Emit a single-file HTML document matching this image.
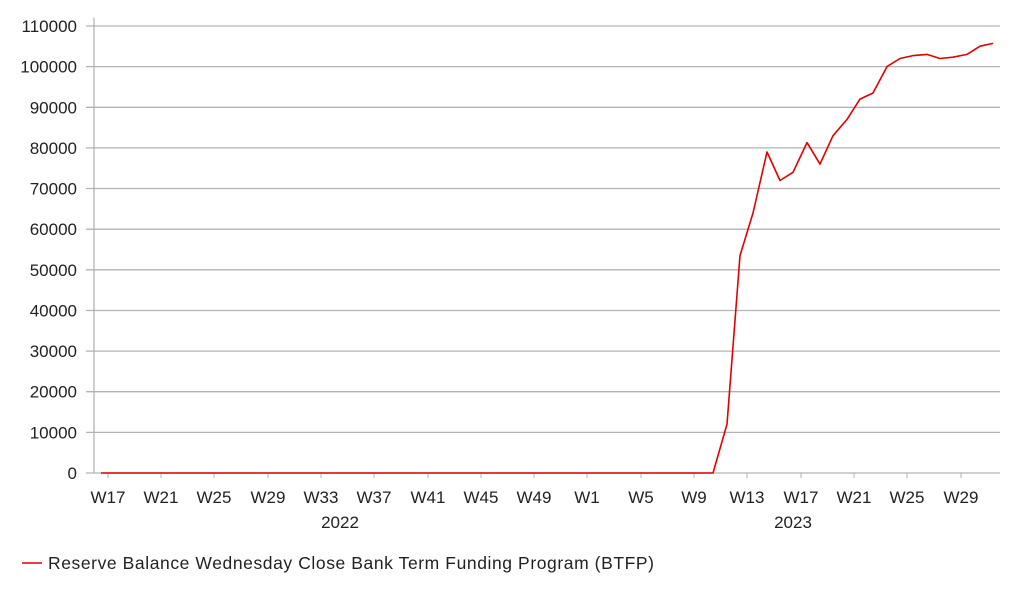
<!DOCTYPE html><html><head><style>body{margin:0;background:#fff}svg{display:block;font-family:"Liberation Sans",sans-serif}</style></head><body>
<svg width="1022" height="597" viewBox="0 0 1022 597">
<g stroke="#b3b3b3" stroke-width="1.3">
<line x1="86" y1="26" x2="1000" y2="26"/><line x1="86" y1="66.6" x2="1000" y2="66.6"/><line x1="86" y1="107.3" x2="1000" y2="107.3"/><line x1="86" y1="147.9" x2="1000" y2="147.9"/><line x1="86" y1="188.5" x2="1000" y2="188.5"/><line x1="86" y1="229.2" x2="1000" y2="229.2"/><line x1="86" y1="269.8" x2="1000" y2="269.8"/><line x1="86" y1="310.5" x2="1000" y2="310.5"/><line x1="86" y1="351.1" x2="1000" y2="351.1"/><line x1="86" y1="391.7" x2="1000" y2="391.7"/><line x1="86" y1="432.4" x2="1000" y2="432.4"/><line x1="86" y1="473" x2="1000" y2="473"/>
<line x1="94" y1="18" x2="94" y2="473"/>
</g>
<g stroke="#b3b3b3" stroke-width="1"><line x1="108" y1="473" x2="108" y2="478"/><line x1="161" y1="473" x2="161" y2="478"/><line x1="214" y1="473" x2="214" y2="478"/><line x1="268" y1="473" x2="268" y2="478"/><line x1="321" y1="473" x2="321" y2="478"/><line x1="374" y1="473" x2="374" y2="478"/><line x1="428" y1="473" x2="428" y2="478"/><line x1="481" y1="473" x2="481" y2="478"/><line x1="534" y1="473" x2="534" y2="478"/><line x1="587" y1="473" x2="587" y2="478"/><line x1="641" y1="473" x2="641" y2="478"/><line x1="694" y1="473" x2="694" y2="478"/><line x1="747" y1="473" x2="747" y2="478"/><line x1="801" y1="473" x2="801" y2="478"/><line x1="854" y1="473" x2="854" y2="478"/><line x1="907" y1="473" x2="907" y2="478"/><line x1="961" y1="473" x2="961" y2="478"/></g>
<g font-size="17" fill="#222" text-anchor="end">
<text x="77" y="32">110000</text><text x="77" y="72.6">100000</text><text x="77" y="113.3">90000</text><text x="77" y="153.9">80000</text><text x="77" y="194.5">70000</text><text x="77" y="235.2">60000</text><text x="77" y="275.8">50000</text><text x="77" y="316.5">40000</text><text x="77" y="357.1">30000</text><text x="77" y="397.7">20000</text><text x="77" y="438.4">10000</text><text x="77" y="479">0</text>
</g>
<g font-size="17" fill="#222" text-anchor="middle">
<text x="108" y="503">W17</text><text x="161" y="503">W21</text><text x="214" y="503">W25</text><text x="268" y="503">W29</text><text x="321" y="503">W33</text><text x="374" y="503">W37</text><text x="428" y="503">W41</text><text x="481" y="503">W45</text><text x="534" y="503">W49</text><text x="587" y="503">W1</text><text x="641" y="503">W5</text><text x="694" y="503">W9</text><text x="747" y="503">W13</text><text x="801" y="503">W17</text><text x="854" y="503">W21</text><text x="907" y="503">W25</text><text x="961" y="503">W29</text>
<text x="340" y="528">2022</text><text x="793" y="528">2023</text>
</g>
<polyline fill="none" stroke="#e00000" stroke-width="1.6" stroke-linejoin="round" points="101,473 713,473 727,424.2 740,255.6 753,213 767,152 780,180.5 793,172.3 807,142.6 820,164.1 833,135.7 847,119.4 860,99.1 873,93 887,66.6 900,58.5 913,55.6 927,54.4 940,58.5 953,57.2 967,54.4 980,46.2 993,43.4"/>
<line x1="22" y1="563" x2="42" y2="563" stroke="#e00000" stroke-width="1.6"/>
<text x="48" y="569" font-size="17.5" fill="#222" textLength="606" lengthAdjust="spacing">Reserve Balance Wednesday Close Bank Term Funding Program (BTFP)</text>
</svg></body></html>
